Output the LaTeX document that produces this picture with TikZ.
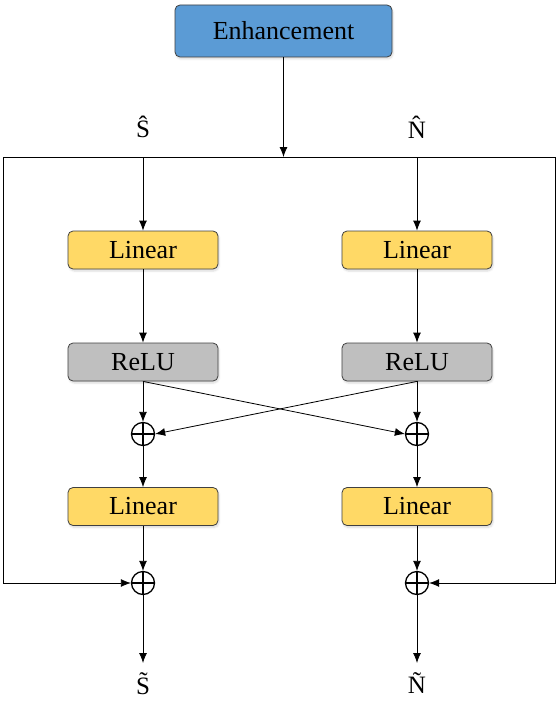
\documentclass[tikz,border=0pt]{standalone}
\usepackage{fontspec}
\setmainfont{Liberation Serif}
\usepackage{tikz}
\usetikzlibrary{arrows.meta}
\usetikzlibrary{calc}
\usetikzlibrary{shadows.blur}
\tikzset{>={Latex[length=10pt,width=8pt]}}

\definecolor{enhblue}{HTML}{5B9BD5}
\definecolor{linyellow}{HTML}{FFD966}
\definecolor{relugray}{HTML}{BFBFBF}
\definecolor{boxedge}{HTML}{404040}

\tikzset{
    block/.style={draw=boxedge, line width=0.8pt, rounded corners=5pt,
        minimum width=150pt, minimum height=38pt, inner sep=0pt,
        font=\fontsize{26}{30}\selectfont,
        blur shadow={shadow blur steps=6, shadow opacity=15, shadow xshift=1pt, shadow yshift=-2pt}},
    linbox/.style={block, fill=linyellow},
    relubox/.style={block, fill=relugray},
    addnode/.style={circle, draw, line width=1.3pt, minimum size=23pt, inner sep=0pt,
        path picture={\draw[line width=1.3pt]
            (path picture bounding box.north) -- (path picture bounding box.south)
            (path picture bounding box.west) -- (path picture bounding box.east);}},
    lbl/.style={inner sep=0pt, font=\fontsize{25}{28}\selectfont},
}

\begin{document}
\begin{tikzpicture}[x=1pt, y=-1pt, line width=0.8pt]
    \useasboundingbox (0,0) rectangle (557,706);

    \coordinate (TL) at (3,157);
    \coordinate (TR) at (555,157);

    % Enhancement
    \node[block, fill=enhblue, minimum width=217pt, minimum height=52pt] (enh) at (283.5,31) {Enhancement};

    % S branch
    \node[lbl] (hatS) at (143,127) {Ŝ};
    \node[linbox] (linS1) at (143,250) {Linear};
    \node[relubox] (reluS) at (143,362) {ReLU};
    \node[addnode] (addS1) at (143,434) {};
    \node[linbox] (linS2) at (143,506.5) {Linear};
    \node[addnode] (addS2) at (143,583) {};
    \node[lbl] (tilS) at (143,684) {S̃};

    % N branch
    \node[lbl] (hatN) at (417,127) {N̂};
    \node[linbox] (linN1) at (417,250) {Linear};
    \node[relubox] (reluN) at (417,362) {ReLU};
    \node[addnode] (addN1) at (417,434) {};
    \node[linbox] (linN2) at (417,506.5) {Linear};
    \node[addnode] (addN2) at (417,583) {};
    \node[lbl] (tilN) at (417,683) {Ñ};

    \coordinate (SL) at (TL -| linS1);
    \coordinate (SR) at (TL -| linN1);
    \coordinate (BL) at (TL |- addS2);
    \coordinate (BR) at (TR |- addN2);
    \coordinate (OS) at (143,663);
    \coordinate (ON) at (417,663);

    % Input split
    \draw[->] (enh.south) -- (enh.south |- TL);
    \draw (TL) -- (TR);
    \draw[->] (SL) -- (linS1.north);
    \draw[->] (SR) -- (linN1.north);

    % Branches
    \draw[->] (linS1.south) -- (reluS.north);
    \draw[->] (linN1.south) -- (reluN.north);
    \draw[->] (reluS.south) -- (addS1.north);
    \draw[->] (reluN.south) -- (addN1.north);
    \draw[->] (reluS.south) -- (addN1.west);
    \draw[->] (reluN.south) -- (addS1.east);
    \draw[->] (addS1.south) -- (linS2.north);
    \draw[->] (addN1.south) -- (linN2.north);
    \draw[->] (linS2.south) -- (addS2.north);
    \draw[->] (linN2.south) -- (addN2.north);

    % Residual paths
    \draw[->] (TL) -- (BL) -- (addS2.west);
    \draw[->] (TR) -- (BR) -- (addN2.east);

    % Outputs
    \draw[->] (addS2.south) -- (OS);
    \draw[->] (addN2.south) -- (ON);
\end{tikzpicture}
\end{document}
